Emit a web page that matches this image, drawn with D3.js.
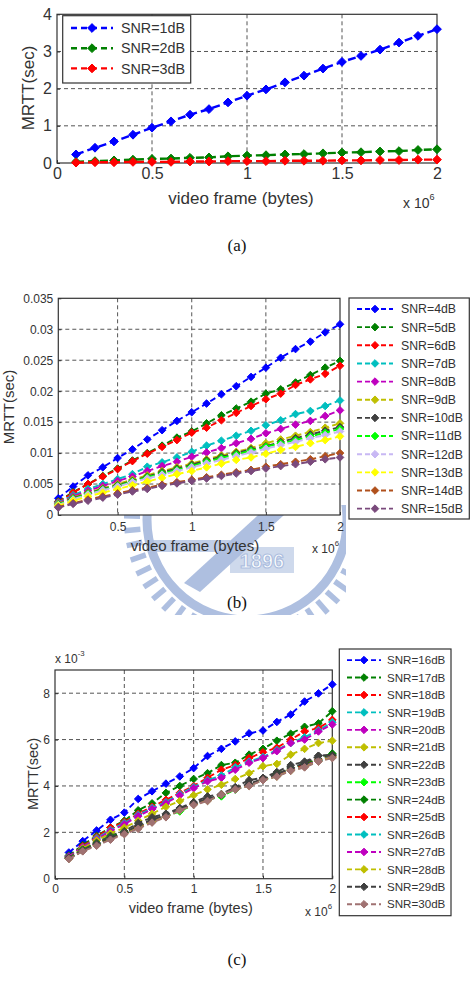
<!DOCTYPE html>
<html><head><meta charset="utf-8">
<script src="https://cdn.jsdelivr.net/npm/d3@7"></script>
<style>body{margin:0;background:#fff}svg{display:block}</style>
</head><body>
<svg id="chart" width="471" height="988"></svg>
<script>
// ---------------- DATA ----------------
const frameX = [0.1,0.2,0.3,0.4,0.5,0.6,0.7,0.8,0.9,1.0,1.1,1.2,1.3,1.4,1.5,1.6,1.7,1.8,1.9,2.0]; // x 10^6 bytes

// panel (a) MRTT (sec)
const namesA = ["SNR=1dB","SNR=2dB","SNR=3dB"];
const a1 = [0.23,0.41,0.58,0.76,0.95,1.12,1.30,1.45,1.63,1.81,1.98,2.17,2.35,2.54,2.72,2.88,3.05,3.24,3.42,3.60];
const a2 = [0.03,0.05,0.07,0.09,0.11,0.12,0.14,0.15,0.18,0.20,0.21,0.23,0.24,0.26,0.28,0.29,0.31,0.32,0.35,0.37];
const a3 = [0.01,0.02,0.02,0.03,0.03,0.03,0.04,0.04,0.05,0.05,0.05,0.06,0.06,0.06,0.07,0.07,0.08,0.08,0.09,0.09];

// panel (b) MRTT (sec)
const namesB = ["SNR=4dB","SNR=5dB","SNR=6dB","SNR=7dB","SNR=8dB","SNR=9dB","SNR=10dB","SNR=11dB","SNR=12dB","SNR=13dB","SNR=14dB","SNR=15dB"];
const b4  = [0.0027,0.0046,0.0064,0.0077,0.0092,0.0106,0.0122,0.0137,0.0152,0.0166,0.0180,0.0195,0.0208,0.0223,0.0238,0.0254,0.0268,0.0280,0.0295,0.0308];
const b5  = [0.0022,0.0037,0.0050,0.0063,0.0075,0.0088,0.0100,0.0112,0.0125,0.0135,0.0148,0.0161,0.0172,0.0183,0.0196,0.0203,0.0214,0.0226,0.0238,0.0249];
const b6  = [0.0021,0.0036,0.0050,0.0062,0.0074,0.0087,0.0099,0.0110,0.0121,0.0133,0.0141,0.0153,0.0165,0.0176,0.0187,0.0196,0.0210,0.0219,0.0228,0.0241];
const b7  = [0.0020,0.0032,0.0042,0.0050,0.0058,0.0066,0.0078,0.0085,0.0093,0.0102,0.0112,0.0120,0.0128,0.0136,0.0145,0.0153,0.0163,0.0168,0.0176,0.0185];
const b8  = [0.0019,0.0030,0.0039,0.0047,0.0055,0.0062,0.0071,0.0079,0.0086,0.0094,0.0101,0.0108,0.0116,0.0123,0.0132,0.0139,0.0146,0.0152,0.0160,0.0169];
const b9  = [0.0018,0.0028,0.0036,0.0043,0.0050,0.0057,0.0064,0.0071,0.0077,0.0083,0.0090,0.0096,0.0102,0.0108,0.0116,0.0122,0.0128,0.0134,0.0141,0.0148];
const b10 = [0.0017,0.0027,0.0035,0.0042,0.0048,0.0055,0.0062,0.0069,0.0075,0.0081,0.0088,0.0094,0.0100,0.0106,0.0111,0.0118,0.0124,0.0130,0.0136,0.0142];
const b11 = [0.0017,0.0026,0.0034,0.0041,0.0047,0.0054,0.0061,0.0067,0.0073,0.0079,0.0086,0.0092,0.0098,0.0104,0.0110,0.0116,0.0121,0.0127,0.0133,0.0139];
const b12 = [0.0016,0.0025,0.0033,0.0040,0.0046,0.0053,0.0059,0.0065,0.0071,0.0077,0.0083,0.0089,0.0095,0.0101,0.0107,0.0113,0.0118,0.0124,0.0129,0.0135];
const b13 = [0.0015,0.0023,0.0030,0.0036,0.0042,0.0048,0.0054,0.0060,0.0066,0.0071,0.0077,0.0083,0.0089,0.0093,0.0099,0.0105,0.0110,0.0116,0.0121,0.0127];
const b14 = [0.0013,0.0019,0.0025,0.0030,0.0035,0.0040,0.0044,0.0049,0.0053,0.0057,0.0061,0.0065,0.0069,0.0073,0.0078,0.0082,0.0086,0.0090,0.0095,0.0100];
const b15 = [0.0012,0.0018,0.0023,0.0028,0.0033,0.0038,0.0042,0.0047,0.0051,0.0055,0.0059,0.0063,0.0067,0.0071,0.0075,0.0079,0.0082,0.0086,0.0090,0.0093];

// panel (c) MRTT (x 10^-3 sec)
const namesC = ["SNR=16dB","SNR=17dB","SNR=18dB","SNR=19dB","SNR=20dB","SNR=21dB","SNR=22dB","SNR=23dB","SNR=24dB","SNR=25dB","SNR=26dB","SNR=27dB","SNR=28dB","SNR=29dB","SNR=30dB"];
const c16 = [1.13,1.62,2.08,2.54,2.85,3.44,3.77,4.10,4.41,4.77,5.29,5.60,5.92,6.27,6.39,6.76,7.08,7.64,7.99,8.38];
const c17 = [1.00,1.45,1.85,2.20,2.50,2.95,3.25,3.70,4.00,4.30,4.55,4.90,5.00,5.35,5.60,5.95,6.25,6.55,6.70,7.22];
const c18 = [0.95,1.40,1.80,2.20,2.45,2.80,3.10,3.40,3.70,4.00,4.35,4.70,4.90,5.20,5.45,5.65,6.00,6.35,6.50,6.85];
const c19 = [0.95,1.35,1.75,2.10,2.40,2.75,3.05,3.30,3.65,3.95,4.25,4.45,4.80,5.05,5.25,5.55,5.85,6.10,6.40,6.75];
const c20 = [0.95,1.35,1.70,2.05,2.35,2.70,3.00,3.25,3.60,3.90,4.20,4.35,4.70,5.00,5.20,5.50,5.85,6.00,6.35,6.65];
const c21 = [0.90,1.30,1.65,1.95,2.20,2.50,2.80,3.10,3.35,3.60,3.85,4.05,4.30,4.55,4.85,4.95,5.35,5.60,5.85,5.95];
const c22 = [0.90,1.25,1.55,1.85,2.05,2.40,2.65,2.80,3.05,3.30,3.55,3.65,3.95,4.25,4.35,4.60,4.90,5.05,5.30,5.35];
const c23 = [0.90,1.25,1.50,1.80,2.00,2.25,2.50,2.70,2.90,3.20,3.40,3.55,3.85,4.05,4.25,4.45,4.70,4.95,5.10,5.30];
const c24 = [0.90,1.25,1.50,1.80,2.00,2.25,2.50,2.70,2.95,3.20,3.40,3.60,3.85,4.05,4.25,4.50,4.75,4.95,5.15,5.40];
const c25 = [0.88,1.22,1.48,1.75,1.98,2.22,2.48,2.70,2.95,3.22,3.40,3.62,3.88,4.05,4.28,4.45,4.70,4.88,5.12,5.28];
const c26 = [0.87,1.21,1.47,1.74,1.97,2.20,2.47,2.69,2.96,3.21,3.38,3.63,3.87,4.03,4.27,4.43,4.68,4.85,5.10,5.25];
const c27 = [0.87,1.20,1.46,1.73,1.96,2.19,2.46,2.68,2.96,3.20,3.37,3.63,3.86,4.02,4.26,4.42,4.67,4.83,5.08,5.24];
const c28 = [0.86,1.20,1.45,1.72,1.95,2.18,2.45,2.67,2.95,3.20,3.36,3.63,3.86,4.01,4.26,4.41,4.66,4.82,5.07,5.23];
const c29 = [0.88,1.22,1.50,1.78,1.98,2.30,2.55,2.75,3.00,3.25,3.45,3.62,3.90,4.10,4.30,4.50,4.78,4.98,5.30,5.32];
const c30 = [0.85,1.18,1.42,1.68,1.92,2.15,2.42,2.65,2.95,3.18,3.35,3.62,3.85,4.00,4.25,4.40,4.65,4.80,5.05,5.20];

// tick values
const xTicksA = [0,0.5,1,1.5,2];
const yTicksA = [0,1,2,3,4];
const xTicksB = [0.5,1,1.5,2];
const yTicksB = [0,0.005,0.01,0.015,0.02,0.025,0.03,0.035];
const xTicksC = [0,0.5,1,1.5,2];
const yTicksC = [0,2,4,6,8];

// ---------------- DRAWING ----------------
const colorsA = ["#0000ff","#008000","#ff0000"];
const colorsB = ["#0000ff","#008000","#ff0000","#00bfbf","#bf00bf","#bfbf00","#404040","#00ff00","#c8b8f4","#ffff00","#b0501c","#7a4a7c"];
const colorsC = ["#0000ff","#008000","#ff0000","#00bfbf","#bf00bf","#bfbf00","#404040","#00ff00","#008000","#ff0000","#00bfbf","#bf00bf","#bfbf00","#404040","#a07272"];

const svg = d3.select("#chart");
const SANS = "'Liberation Sans', Arial, Helvetica, sans-serif";
const TXT = "#333";

function diamond(r){ return `M0,${-r}L${r},0L0,${r}L${-r},0Z`; }

// watermark behind panel (b)
(function watermark(){
  const wm = "#aebfe0";
  const defs = svg.append("defs");
  defs.append("clipPath").attr("id","wmclip").append("rect")
    .attr("x",118).attr("y",505).attr("width",228).attr("height",110);
  const g = svg.append("g").attr("clip-path","url(#wmclip)");
  const cx = 247, cy = 520;
  g.append("circle").attr("cx",cx).attr("cy",cy).attr("r",100)
    .attr("fill","none").attr("stroke",wm).attr("stroke-width",9);
  for (let a = 0; a < 360; a += 7) {
    const t = a*Math.PI/180;
    g.append("line")
      .attr("x1",cx+107*Math.cos(t)).attr("y1",cy+107*Math.sin(t))
      .attr("x2",cx+123*Math.cos(t)).attr("y2",cy+123*Math.sin(t))
      .attr("stroke",wm).attr("stroke-width",5.5);
  }
  g.append("path").attr("d","M268,506L284,515L200,592L184,583Z").attr("fill",wm);
  g.append("path").attr("d","M150,540L230,540L236,552L156,552Z").attr("fill",wm).attr("opacity",0.75);
  g.append("rect").attr("x",230).attr("y",547).attr("width",64).attr("height",26).attr("fill",wm).attr("opacity",0.6);
  g.append("text").attr("x",262).attr("y",568).attr("text-anchor","middle")
    .attr("font-family",SANS).attr("font-weight","bold").attr("font-size",20)
    .attr("fill","#ffffff").attr("stroke",wm).attr("stroke-width",1.2).text("1896");
})();

function panel(cfg){
  const g = svg.append("g");
  const x = d3.scaleLinear().domain(cfg.xDomain).range([cfg.left, cfg.right]);
  const y = d3.scaleLinear().domain(cfg.yDomain).range([cfg.bottom, cfg.top]);

  g.append("rect").attr("x",cfg.left).attr("y",cfg.top)
    .attr("width",cfg.right-cfg.left).attr("height",cfg.bottom-cfg.top).attr("fill","#fff");

  const gridStyle = s => s.attr("stroke","#555").attr("stroke-width",1).attr("stroke-dasharray","4,3");
  g.append("g").selectAll("line").data(cfg.xTicks.filter(t => t>cfg.xDomain[0] && t<cfg.xDomain[1])).join("line")
    .attr("x1",d=>x(d)).attr("x2",d=>x(d)).attr("y1",cfg.top).attr("y2",cfg.bottom).call(gridStyle);
  g.append("g").selectAll("line").data(cfg.yTicks.filter(t => t>cfg.yDomain[0] && t<cfg.yDomain[1])).join("line")
    .attr("y1",d=>y(d)).attr("y2",d=>y(d)).attr("x1",cfg.left).attr("x2",cfg.right).call(gridStyle);

  const xAx = g.append("g").attr("transform",`translate(0,${cfg.bottom})`)
    .call(d3.axisBottom(x).tickValues(cfg.xTicks).tickSize(-3).tickPadding(cfg.xPad).tickFormat(d3.format("~g")));
  const yAx = g.append("g").attr("transform",`translate(${cfg.left},0)`)
    .call(d3.axisLeft(y).tickValues(cfg.yTicks).tickSize(-3).tickPadding(cfg.yPad).tickFormat(cfg.yFormat));
  [xAx,yAx].forEach(a=>{
    a.select(".domain").remove();
    a.selectAll(".tick line").attr("stroke","#333");
    a.selectAll(".tick text").attr("font-family",SANS).attr("font-size",cfg.tickFont).attr("fill",TXT);
  });

  g.append("rect").attr("x",cfg.left).attr("y",cfg.top)
    .attr("width",cfg.right-cfg.left).attr("height",cfg.bottom-cfg.top)
    .attr("fill","none").attr("stroke","#333").attr("stroke-width",1.2);

  const line = d3.line().x((d,i)=>x(frameX[i])).y(d=>y(d));
  cfg.series.forEach((s,k)=>{
    const col = cfg.colors[k];
    g.append("path").datum(s).attr("d",line).attr("fill","none")
      .attr("stroke",col).attr("stroke-width",cfg.lw).attr("stroke-dasharray",cfg.dash);
    g.append("g").selectAll("path").data(s).join("path")
      .attr("transform",(d,i)=>`translate(${x(frameX[i])},${y(d)})`)
      .attr("d",diamond(cfg.mr)).attr("fill",col).attr("stroke",col).attr("stroke-width",1);
  });

  const L = cfg.legend;
  g.append("rect").attr("x",L.x0).attr("y",L.y0).attr("width",L.x1-L.x0).attr("height",L.y1-L.y0)
    .attr("fill","#fff").attr("stroke","#333").attr("stroke-width",1.2);
  cfg.names.forEach((n,k)=>{
    const yy = L.first + k*L.step, col = cfg.colors[k];
    g.append("line").attr("x1",L.lx0).attr("x2",L.lx1).attr("y1",yy).attr("y2",yy)
      .attr("stroke",col).attr("stroke-width",cfg.lw).attr("stroke-dasharray",L.dash);
    g.append("path").attr("transform",`translate(${(L.lx0+L.lx1)/2},${yy})`)
      .attr("d",diamond(cfg.mr)).attr("fill",col).attr("stroke",col);
    g.append("text").attr("x",L.tx).attr("y",yy).attr("dy","0.36em")
      .attr("font-family",SANS).attr("font-size",L.font).attr("fill",TXT).text(n);
  });

  g.append("text").attr("x",cfg.xl[0]).attr("y",cfg.xl[1]).attr("dy","0.36em").attr("text-anchor","middle")
    .attr("font-family",SANS).attr("font-size",cfg.labFont).attr("fill",TXT).text("video frame (bytes)");
  g.append("text").attr("transform",`translate(${cfg.yl[0]},${cfg.yl[1]}) rotate(-90)`)
    .attr("dy","0.36em").attr("text-anchor","middle")
    .attr("font-family",SANS).attr("font-size",cfg.labFont).attr("fill",TXT).text("MRTT(sec)");
  const m = g.append("text").attr("x",cfg.mult[0]).attr("y",cfg.mult[1])
    .attr("font-family",SANS).attr("font-size",cfg.multFont).attr("fill",TXT);
  m.append("tspan").text("x 10");
  m.append("tspan").attr("dy",-cfg.multFont*0.55).attr("font-size",cfg.multFont*0.65).text("6");
  if (cfg.ymult){
    const t = g.append("text").attr("x",cfg.ymult[0]).attr("y",cfg.ymult[1])
      .attr("font-family",SANS).attr("font-size",cfg.multFont).attr("fill",TXT);
    t.append("tspan").text("x 10");
    t.append("tspan").attr("dy",-cfg.multFont*0.55).attr("font-size",cfg.multFont*0.65).text("-3");
  }
  g.append("text").attr("x",237).attr("y",cfg.cap[1]).attr("dy","0.36em").attr("text-anchor","middle")
    .attr("font-family","'Liberation Serif','Times New Roman',serif").attr("font-size",17).attr("fill","#111").text(cfg.cap[0]);
}

panel({
  left:57, right:437, top:14.3, bottom:163,
  xDomain:[0,2], yDomain:[0,4], xTicks:xTicksA, yTicks:yTicksA, yFormat:d3.format("~g"),
  tickFont:16, xPad:5, yPad:5, labFont:17, multFont:14,
  series:[a1,a2,a3], names:namesA, colors:colorsA, lw:2.4, dash:"8,4", mr:4.4,
  legend:{x0:62.7,x1:190.7,y0:15.7,y1:83,first:28,step:20.2,lx0:71,lx1:113,tx:121,font:14.3,dash:"6,4"},
  xl:[241,198], yl:[28,88], mult:[403,208], cap:["(a)",245]
});

panel({
  left:58.3, right:340, top:298.3, bottom:515,
  xDomain:[0.1,2], yDomain:[0,0.035], xTicks:xTicksB, yTicks:yTicksB, yFormat:d3.format("~g"),
  tickFont:12, xPad:7, yPad:5, labFont:15, multFont:12,
  series:[b4,b5,b6,b7,b8,b9,b10,b11,b12,b13,b14,b15], names:namesB, colors:colorsB, lw:1.9, dash:"6,3.5", mr:3.8,
  legend:{x0:349,x1:469.3,y0:298,y1:519,first:309,step:18.15,lx0:357,lx1:393,tx:401,font:12.3,dash:"5,3"},
  xl:[195,545.7], yl:[9,407], mult:[312,553], cap:["(b)",601.7]
});

panel({
  left:55, right:332.3, top:670, bottom:878.7,
  xDomain:[0,2], yDomain:[0,9], xTicks:xTicksC, yTicks:yTicksC, yFormat:d3.format("~g"),
  tickFont:12, xPad:6, yPad:5, labFont:14.5, multFont:12,
  series:[c16,c17,c18,c19,c20,c21,c22,c23,c24,c25,c26,c27,c28,c29,c30], names:namesC, colors:colorsC, lw:1.9, dash:"6,3.5", mr:3.8,
  legend:{x0:339.3,x1:451,y0:649,y1:915.7,first:660.1,step:17.44,lx0:347,lx1:381,tx:387,font:11.6,dash:"5,3"},
  xl:[190.7,907.7], yl:[32.5,774], mult:[305,916], ymult:[55,663], cap:["(c)",959]
});
</script>
</body></html>
